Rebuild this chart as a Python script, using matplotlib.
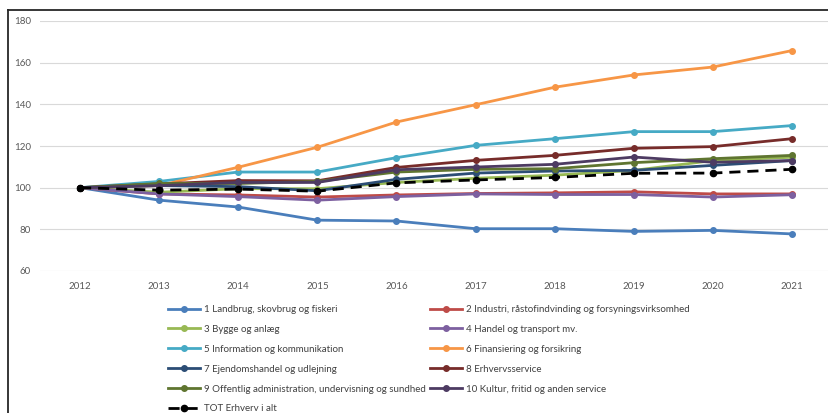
import matplotlib.pyplot as plt
from matplotlib.lines import Line2D

# data (index, 2012 = 100)
years = ["2012", "2013", "2014", "2015", "2016", "2017", "2018", "2019", "2020", "2021"]

landbrug = [100, 94.0, 90.7, 84.4, 84.0, 80.3, 80.3, 79.0, 79.5, 77.8]
industri = [100, 97.0, 96.5, 95.5, 96.5, 97.2, 97.5, 98.0, 97.0, 97.0]
bygge = [100, 97.8, 99.5, 99.5, 102.5, 104.5, 106.0, 108.3, 113.0, 114.6]
handel = [100, 97.0, 95.7, 94.0, 95.7, 97.0, 96.7, 96.7, 95.5, 96.6]
information = [100, 103.0, 107.5, 107.5, 114.4, 120.3, 123.5, 126.9, 126.9, 129.8]
finansiering = [100, 101.0, 109.8, 119.4, 131.5, 139.8, 148.2, 154.1, 157.9, 165.8]
ejendom = [100, 101.0, 100.5, 98.5, 104.0, 107.0, 108.0, 108.3, 110.7, 113.0]
erhvervsservice = [100, 101.8, 103.4, 103.3, 109.7, 113.1, 115.5, 118.9, 119.7, 123.5]
offentlig = [100, 102.0, 102.0, 103.0, 107.5, 108.8, 109.1, 112.0, 113.9, 115.5]
kultur = [100, 101.0, 102.5, 102.5, 108.6, 109.9, 111.2, 114.7, 112.2, 113.0]
total = [100, 98.8, 99.3, 98.3, 102.3, 103.7, 104.9, 106.9, 107.0, 108.8]

labels = [
    "1 Landbrug, skovbrug og fiskeri",
    "2 Industri, råstofindvinding og forsyningsvirksomhed",
    "3 Bygge og anlæg",
    "4 Handel og transport mv.",
    "5 Information og kommunikation",
    "6 Finansiering og forsikring",
    "7 Ejendomshandel og udlejning",
    "8 Erhvervsservice",
    "9 Offentlig administration, undervisning og sundhed",
    "10 Kultur, fritid og anden service",
    "TOT Erhverv i alt",
]
series = [landbrug, industri, bygge, handel, information, finansiering,
          ejendom, erhvervsservice, offentlig, kultur, total]
colors = ["#4A7EBB", "#BE4B48", "#98B954", "#7D60A0", "#46AAC5", "#F79646",
          "#2C4D75", "#772C2A", "#5F7530", "#4D3B62", "black"]

plt.rcParams['font.family'] = ['Lato', 'DejaVu Sans']

W, H = 829, 413
fig = plt.figure(figsize=(W / 100, H / 100), dpi=100)

# chart frame (cropped on right and bottom)
fig.add_artist(Line2D([8 / W, 8 / W], [0, 1 - 10 / H], transform=fig.transFigure, color="#262626", lw=1.3))
fig.add_artist(Line2D([8 / W, 1], [1 - 10 / H, 1 - 10 / H], transform=fig.transFigure, color="#262626", lw=1.3))

ax = fig.add_axes([40.5 / W, 1 - 271 / H, 791 / W, 250 / H])
x = list(range(len(years)))
handles = []
for vals, lab, c in zip(series, labels, colors):
    if lab.startswith("TOT"):
        h, = ax.plot(x, vals, color=c, lw=2, ls=(0, (4, 2.5)), marker="o", ms=4.5, label=lab, zorder=5)
    else:
        h, = ax.plot(x, vals, color=c, lw=2, marker="o", ms=4, label=lab)
    handles.append(h)

ax.set_xlim(-0.5, 9.5)
ax.set_ylim(60, 180)
ax.set_yticks(range(60, 181, 20))
ax.set_xticks(x)
ax.set_xticklabels(years)
ax.grid(axis="y", color="#D9D9D9", lw=0.8)
ax.set_axisbelow(True)
for s in ax.spines.values():
    s.set_visible(False)
ax.tick_params(length=0, labelsize=7, labelcolor="#595959", pad=8)
ax.tick_params(axis="y", pad=7)

# legend in two columns, Excel order row by row
leg_kw = dict(frameon=False, fontsize=7, handlelength=3.3, handletextpad=0.4,
              labelspacing=1.12, borderpad=0, borderaxespad=0, loc="upper left",
              bbox_transform=fig.transFigure, labelcolor="#404040")
col1 = [handles[i] for i in (0, 2, 4, 6, 8, 10)]
col2 = [handles[i] for i in (1, 3, 5, 7, 9)]
l1 = fig.legend(col1, [h.get_label() for h in col1], bbox_to_anchor=(168 / W, 1 - 305 / H), **leg_kw)
l2 = fig.legend(col2, [h.get_label() for h in col2], bbox_to_anchor=(430 / W, 1 - 305 / H), **leg_kw)

fig.savefig("out.png", dpi=100)
